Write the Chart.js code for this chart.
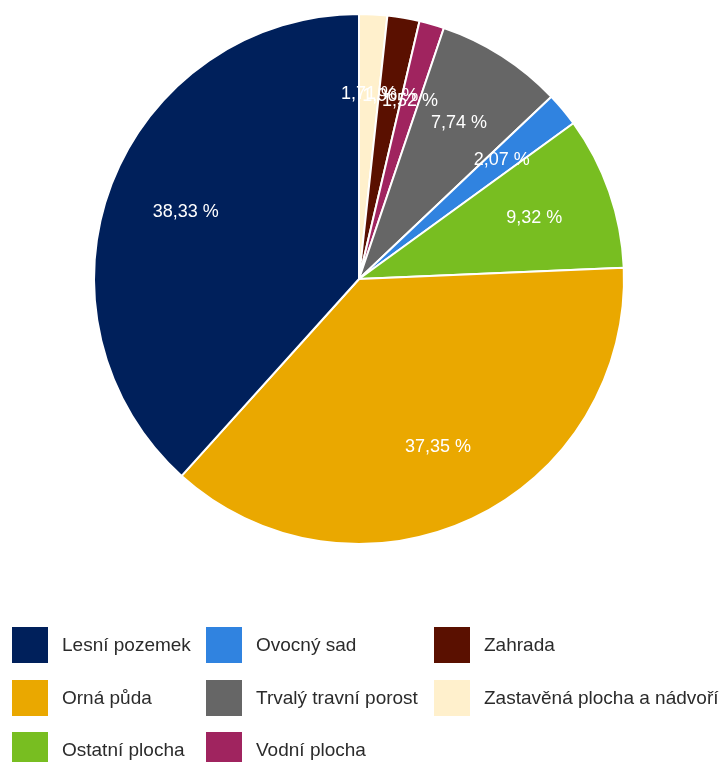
<!DOCTYPE html>
<html lang="cs">
<head>
<meta charset="utf-8">
<title>Druhy pozemků</title>
<script src="https://cdn.jsdelivr.net/npm/chart.js@4.4.1/dist/chart.umd.min.js"></script>
<style>
    body { margin: 0; background: #fff; font-family: "Liberation Sans", Arial, sans-serif; }
    #wrap { position: relative; width: 723px; height: 762px; overflow: hidden; }
    #chartBox { position: absolute; left: 0; top: 0; width: 723px; height: 560px; }
    #legend { position: absolute; left: 0; top: 0; width: 723px; height: 762px; pointer-events: none; }
    .item { position: absolute; display: flex; align-items: center; height: 36px; font-size: 19px; color: #2b2b2b; white-space: nowrap; }
    .item span.box { display: inline-block; width: 36px; height: 36px; margin-right: 14px; }
</style>
</head>
<body>
<div id="wrap">
    <div id="chartBox"><canvas id="pieChart"></canvas></div>
    <div id="legend"></div>
</div>
<script>
// slices clockwise from 12 o'clock
const categories = [
    'Zastavěná plocha a nádvoří',
    'Zahrada',
    'Vodní plocha',
    'Trvalý travní porost',
    'Ovocný sad',
    'Ostatní plocha',
    'Orná půda',
    'Lesní pozemek'
];
const shares = [1.71, 1.96, 1.52, 7.74, 2.07, 9.32, 37.35, 38.33];
const colors = ['#FFF0CC', '#5A1000', '#A0245F', '#666666', '#3083E0', '#78BE21', '#EAA800', '#00205B'];

// legend goes alphabetically, filled column by column (3 rows)
const legendOrder = [
    'Lesní pozemek', 'Orná půda', 'Ostatní plocha',
    'Ovocný sad', 'Trvalý travní porost', 'Vodní plocha',
    'Zahrada', 'Zastavěná plocha a nádvoří'
];

const percentLabels = {
    id: 'percentLabels',
    afterDatasetsDraw(chart) {
        const ctx = chart.ctx;
        const meta = chart.getDatasetMeta(0);
        ctx.save();
        ctx.font = '18px "Liberation Sans", Arial, sans-serif';
        ctx.fillStyle = '#ffffff';
        ctx.textAlign = 'center';
        ctx.textBaseline = 'middle';
        meta.data.forEach((arc, i) => {
            const p = arc.getProps(['x', 'y', 'startAngle', 'endAngle', 'outerRadius'], true);
            const mid = (p.startAngle + p.endAngle) / 2;
            const r = p.outerRadius * 0.7;
            const text = shares[i].toFixed(2).replace('.', ',') + ' %';
            ctx.fillText(text, p.x + Math.cos(mid) * r, p.y + Math.sin(mid) * r);
        });
        ctx.restore();
    }
};

const chart = new Chart(document.getElementById('pieChart'), {
    type: 'pie',
    data: {
        labels: categories,
        datasets: [{
            data: shares,
            backgroundColor: colors,
            borderColor: '#ffffff',
            borderWidth: 2
        }]
    },
    options: {
        responsive: true,
        maintainAspectRatio: false,
        animation: false,
        layout: { padding: { top: 13, bottom: 15, left: 0, right: 5 } },
        plugins: {
            legend: { display: false },
            tooltip: { enabled: false }
        }
    },
    plugins: [percentLabels]
});

function buildLegend() {
    const el = document.getElementById('legend');
    const colX = [12, 206, 434];
    const rowY = [627, 680, 732];
    legendOrder.forEach((name, k) => {
        const idx = categories.indexOf(name);
        const item = document.createElement('div');
        item.className = 'item';
        item.style.left = colX[Math.floor(k / 3)] + 'px';
        item.style.top = rowY[k % 3] + 'px';
        const box = document.createElement('span');
        box.className = 'box';
        box.style.background = colors[idx];
        item.appendChild(box);
        item.appendChild(document.createTextNode(name));
        el.appendChild(item);
    });
}
buildLegend();
</script>
</body>
</html>
